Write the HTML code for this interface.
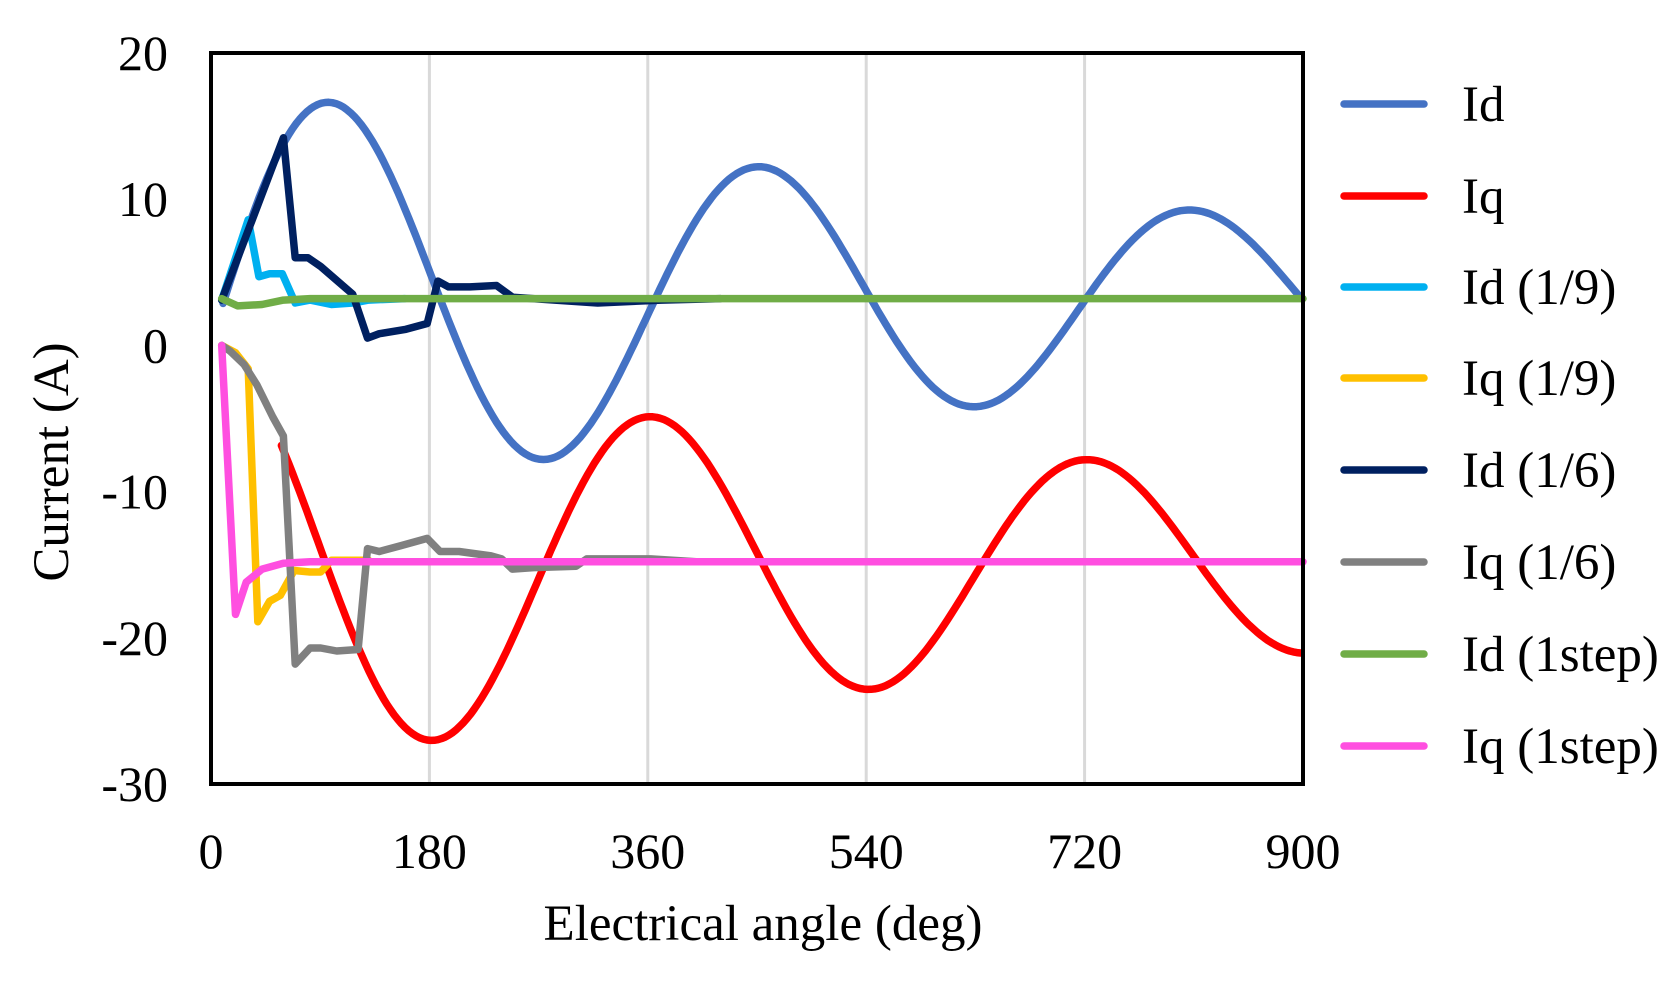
<!DOCTYPE html>
<html><head><meta charset="utf-8"><style>
html,body{margin:0;padding:0;background:#fff;}
svg{display:block;}
text{font-family:"Liberation Serif","DejaVu Serif",serif;fill:#000;}
</style></head><body>
<svg id="s" width="1676" height="982" viewBox="0 0 1676 982" xmlns="http://www.w3.org/2000/svg">
<rect width="1676" height="982" fill="#fff"/>
<g id="grid" stroke="#d9d9d9" stroke-width="3"></g>
<g id="series" fill="none" stroke-linejoin="round" stroke-linecap="round" stroke-width="7.5"></g>
<rect x="211" y="53" width="1092" height="731" fill="none" stroke="#000" stroke-width="4"/>
<g id="ticks" font-size="50"></g>
<text x="763" y="940" font-size="51" text-anchor="middle">Electrical angle (deg)</text>
<text transform="translate(68,462) rotate(-90)" font-size="51" text-anchor="middle">Current (A)</text>
<g id="legend" font-size="51"></g>
</svg>
<script>
var X0=211,X1=1303,Y0=53,Y1=784;
function xp(v){return X0+(X1-X0)*v/900;}
function yp(v){return Y0+(Y1-Y0)*(20-v)/50;}
var NS="http://www.w3.org/2000/svg";
function el(p,n,a,t){var e=document.createElementNS(NS,n);for(var k in a)e.setAttribute(k,a[k]);if(t!=null)e.textContent=t;p.appendChild(e);return e;}
var grid=document.getElementById('grid');
[180,360,540,720].forEach(function(v){el(grid,'line',{x1:xp(v),x2:xp(v),y1:Y0,y2:Y1});});
var ticks=document.getElementById('ticks');
[0,180,360,540,720,900].forEach(function(v){el(ticks,'text',{x:xp(v),y:868,'text-anchor':'middle'},String(v));});
[20,10,0,-10,-20,-30].forEach(function(v){el(ticks,'text',{x:168,y:yp(v)+17,'text-anchor':'end'},String(v));});
function pts(a){return a.map(function(p){return xp(p[0]).toFixed(1)+','+yp(p[1]).toFixed(1);}).join(' ');}
var id=[],iq=[];
for(var t=10;t<=900;t+=3){
 id.push([t,3.2+13.4*Math.exp(-(t-100)/893)*Math.cos(2*Math.PI*(t-100)/355)]);
 if(t>=58) iq.push([t,-15-12*Math.exp(-(t-185)/1050)*Math.cos(2*Math.PI*(t-185)/360)]);
}
var id9=[[8.8,3.1],[30.7,8.6],[39.5,4.7],[48.3,4.9],[58.8,4.9],[69.4,2.9],[81.7,3.1],[99.2,2.8],[116.8,2.9],[130,3.1],[160,3.2]];
var iq9=[[8.8,0],[20.2,-0.5],[30.7,-1.6],[38.6,-18.9],[48.3,-17.5],[57.1,-17.1],[68.5,-15.4],[81.7,-15.5],[90.4,-15.5],[99.2,-14.7],[130,-14.7]];
var id6=[[8.8,3.1],[59.7,14.2],[69.4,6.0],[79.9,6.0],[90.4,5.4],[116.8,3.5],[129,0.5],[138.7,0.8],[160.7,1.1],[178.2,1.5],[187,4.4],[195.8,4.0],[213.4,4.0],[235.3,4.1],[248.5,3.3],[283.6,3.1],[318.7,2.9],[371,3.1],[420,3.2]];
var iq6=[[8.8,0],[15.8,-0.4],[27.2,-1.3],[37.8,-2.7],[50.9,-4.9],[59.7,-6.2],[69.4,-21.8],[81.7,-20.7],[90.4,-20.7],[103.6,-20.9],[121.2,-20.8],[129,-13.9],[138.7,-14.1],[156.3,-13.7],[178.2,-13.2],[188.7,-14.1],[204.5,-14.1],[230.8,-14.4],[239.5,-14.6],[248.3,-15.3],[265.8,-15.2],[300.9,-15.1],[309.7,-14.6],[362.4,-14.6],[400,-14.8]];
var id1=[[8.8,3.2],[21.9,2.7],[42,2.8],[59.7,3.1],[81.7,3.2],[900,3.2]];
var iq1=[[8.8,0],[20.2,-18.4],[29,-16.2],[42.1,-15.3],[59.7,-14.9],[81.7,-14.8],[900,-14.8]];
var S=[["Id","#4472C4",id],["Iq","#FF0000",iq],["Id (1/9)","#00B0F0",id9],["Iq (1/9)","#FFC000",iq9],["Id (1/6)","#002060",id6],["Iq (1/6)","#808080",iq6],["Id (1step)","#70AD47",id1],["Iq (1step)","#FF4FE0",iq1]];
var g=document.getElementById('series'),lg=document.getElementById('legend');
var ly=[104,196,287,378,470,562,654,746];
S.forEach(function(s,i){
 el(g,'polyline',{points:pts(s[2]),stroke:s[1]});
 el(lg,'line',{x1:1344,x2:1424,y1:ly[i],y2:ly[i],stroke:s[1],'stroke-width':7.5,'stroke-linecap':'round'});
 el(lg,'text',{x:1462,y:ly[i]+17},s[0]);
});
</script>
</body></html>
